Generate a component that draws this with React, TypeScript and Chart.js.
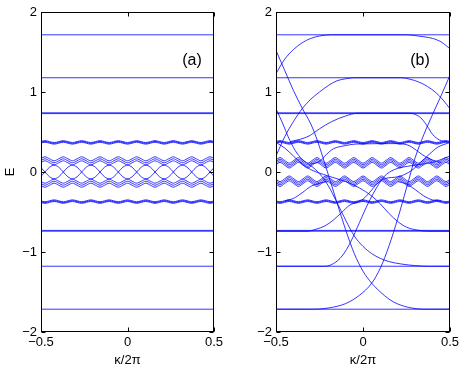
import React, { useEffect, useRef } from "react";
import { Chart, registerables } from "chart.js";
Chart.register(...registerables);

// ---------- data ----------
const KX = [-0.5, -0.477, -0.4505, -0.424, -0.3975, -0.371, -0.3445, -0.318, -0.2915, -0.265, -0.2385, -0.212, -0.1855, -0.159, -0.1325, -0.106, -0.0795, -0.053, -0.0265, 0, 0.0265, 0.053, 0.0795, 0.106, 0.1325, 0.159, 0.1855, 0.212, 0.2385, 0.265, 0.2915, 0.318, 0.3445, 0.371, 0.3975, 0.424, 0.4505, 0.477, 0.5];

const X_TICKS = [-0.5, 0, 0.5];
const X_TICK_LABELS = ["\u22120.5", "0", "0.5"];
const Y_TICKS = [-2, -1, 0, 1, 2];
const Y_TICK_LABELS = ["\u22122", "\u22121", "0", "1", "2"];
const X_TITLE = "\u03ba/2\u03c0";
const Y_TITLE = "E";
const PANEL_LABELS = ["(a)", "(b)"];

const FLAT_LEVELS = [1.715, 1.178, 0.74, 0.73, -0.73, -0.74, -1.178, -1.715];

// panel (a) crossing lines
const XA_UP = [-0.054,
  0, 0.06, 0.085, 0.06, 0, -0.06, -0.085, -0.06,
  0, 0.06, 0.085, 0.06, 0, -0.06, -0.085, -0.06,
  0, 0.06, 0.085, 0.06, 0, -0.06, -0.085, -0.06,
  0, 0.06, 0.085, 0.06, 0, -0.06, -0.085, -0.06,
  0, 0.06, 0.085, 0.06, 0,
  -0.054];
const XA_DN = [0.054,
  0, -0.06, -0.085, -0.06, 0, 0.06, 0.085, 0.06,
  0, -0.06, -0.085, -0.06, 0, 0.06, 0.085, 0.06,
  0, -0.06, -0.085, -0.06, 0, 0.06, 0.085, 0.06,
  0, -0.06, -0.085, -0.06, 0, 0.06, 0.085, 0.06,
  0, -0.06, -0.085, -0.06, 0,
  0.054];

// panel (a) central bundles
const TA1 = [0.12,
  0.14, 0.115, 0.09, 0.115, 0.14, 0.115, 0.09, 0.115, 0.14, 0.115, 0.09, 0.115,
  0.14, 0.115, 0.09, 0.115, 0.14, 0.115, 0.09, 0.115, 0.14, 0.115, 0.09, 0.115,
  0.14, 0.115, 0.09, 0.115, 0.14, 0.115, 0.09, 0.115, 0.14, 0.115, 0.09, 0.115,
  0.14, 0.12];
const TA2 = [0.145,
  0.165, 0.14, 0.115, 0.14, 0.165, 0.14, 0.115, 0.14, 0.165, 0.14, 0.115, 0.14,
  0.165, 0.14, 0.115, 0.14, 0.165, 0.14, 0.115, 0.14, 0.165, 0.14, 0.115, 0.14,
  0.165, 0.14, 0.115, 0.14, 0.165, 0.14, 0.115, 0.14, 0.165, 0.14, 0.115, 0.14,
  0.165, 0.145];
const TA3 = [0.17,
  0.19, 0.165, 0.14, 0.165, 0.19, 0.165, 0.14, 0.165, 0.19, 0.165, 0.14, 0.165,
  0.19, 0.165, 0.14, 0.165, 0.19, 0.165, 0.14, 0.165, 0.19, 0.165, 0.14, 0.165,
  0.19, 0.165, 0.14, 0.165, 0.19, 0.165, 0.14, 0.165, 0.19, 0.165, 0.14, 0.165,
  0.19, 0.17];
const BA1 = [-0.12,
  -0.14, -0.115, -0.09, -0.115, -0.14, -0.115, -0.09, -0.115, -0.14, -0.115, -0.09, -0.115,
  -0.14, -0.115, -0.09, -0.115, -0.14, -0.115, -0.09, -0.115, -0.14, -0.115, -0.09, -0.115,
  -0.14, -0.115, -0.09, -0.115, -0.14, -0.115, -0.09, -0.115, -0.14, -0.115, -0.09, -0.115,
  -0.14, -0.12];
const BA2 = [-0.145,
  -0.165, -0.14, -0.115, -0.14, -0.165, -0.14, -0.115, -0.14, -0.165, -0.14, -0.115, -0.14,
  -0.165, -0.14, -0.115, -0.14, -0.165, -0.14, -0.115, -0.14, -0.165, -0.14, -0.115, -0.14,
  -0.165, -0.14, -0.115, -0.14, -0.165, -0.14, -0.115, -0.14, -0.165, -0.14, -0.115, -0.14,
  -0.165, -0.145];
const BA3 = [-0.17,
  -0.19, -0.165, -0.14, -0.165, -0.19, -0.165, -0.14, -0.165, -0.19, -0.165, -0.14, -0.165,
  -0.19, -0.165, -0.14, -0.165, -0.19, -0.165, -0.14, -0.165, -0.19, -0.165, -0.14, -0.165,
  -0.19, -0.165, -0.14, -0.165, -0.19, -0.165, -0.14, -0.165, -0.19, -0.165, -0.14, -0.165,
  -0.19, -0.17];

// +-0.37 bundles (both panels)
const Q1 = [0.362,
  0.372, 0.36, 0.348, 0.36, 0.372, 0.36, 0.348, 0.36, 0.372, 0.36, 0.348, 0.36,
  0.372, 0.36, 0.348, 0.36, 0.372, 0.36, 0.348, 0.36, 0.372, 0.36, 0.348, 0.36,
  0.372, 0.36, 0.348, 0.36, 0.372, 0.36, 0.348, 0.36, 0.372, 0.36, 0.348, 0.36,
  0.372, 0.362];
const Q2 = [0.372,
  0.382, 0.37, 0.358, 0.37, 0.382, 0.37, 0.358, 0.37, 0.382, 0.37, 0.358, 0.37,
  0.382, 0.37, 0.358, 0.37, 0.382, 0.37, 0.358, 0.37, 0.382, 0.37, 0.358, 0.37,
  0.382, 0.37, 0.358, 0.37, 0.382, 0.37, 0.358, 0.37, 0.382, 0.37, 0.358, 0.37,
  0.382, 0.372];
const Q3 = [0.382,
  0.392, 0.38, 0.368, 0.38, 0.392, 0.38, 0.368, 0.38, 0.392, 0.38, 0.368, 0.38,
  0.392, 0.38, 0.368, 0.38, 0.392, 0.38, 0.368, 0.38, 0.392, 0.38, 0.368, 0.38,
  0.392, 0.38, 0.368, 0.38, 0.392, 0.38, 0.368, 0.38, 0.392, 0.38, 0.368, 0.38,
  0.392, 0.382];
const QN1 = [-0.362,
  -0.372, -0.36, -0.348, -0.36, -0.372, -0.36, -0.348, -0.36, -0.372, -0.36, -0.348, -0.36,
  -0.372, -0.36, -0.348, -0.36, -0.372, -0.36, -0.348, -0.36, -0.372, -0.36, -0.348, -0.36,
  -0.372, -0.36, -0.348, -0.36, -0.372, -0.36, -0.348, -0.36, -0.372, -0.36, -0.348, -0.36,
  -0.372, -0.362];
const QN2 = [-0.372,
  -0.382, -0.37, -0.358, -0.37, -0.382, -0.37, -0.358, -0.37, -0.382, -0.37, -0.358, -0.37,
  -0.382, -0.37, -0.358, -0.37, -0.382, -0.37, -0.358, -0.37, -0.382, -0.37, -0.358, -0.37,
  -0.382, -0.37, -0.358, -0.37, -0.382, -0.37, -0.358, -0.37, -0.382, -0.37, -0.358, -0.37,
  -0.382, -0.372];
const QN3 = [-0.382,
  -0.392, -0.38, -0.368, -0.38, -0.392, -0.38, -0.368, -0.38, -0.392, -0.38, -0.368, -0.38,
  -0.392, -0.38, -0.368, -0.38, -0.392, -0.38, -0.368, -0.38, -0.392, -0.38, -0.368, -0.38,
  -0.392, -0.38, -0.368, -0.38, -0.392, -0.38, -0.368, -0.38, -0.392, -0.38, -0.368, -0.38,
  -0.392, -0.382];

// panel (b) central bundles
const PB1 = [0.092,
  0.12, 0.085, 0.05, 0.085, 0.12, 0.085, 0.05, 0.085, 0.12, 0.085, 0.05, 0.085,
  0.12, 0.085, 0.05, 0.085, 0.12, 0.085, 0.05, 0.085, 0.12, 0.085, 0.05, 0.085,
  0.12, 0.085, 0.05, 0.085, 0.12, 0.085, 0.05, 0.085, 0.12, 0.085, 0.05, 0.085,
  0.12, 0.092];
const PB2 = [0.112,
  0.14, 0.105, 0.07, 0.105, 0.14, 0.105, 0.07, 0.105, 0.14, 0.105, 0.07, 0.105,
  0.14, 0.105, 0.07, 0.105, 0.14, 0.105, 0.07, 0.105, 0.14, 0.105, 0.07, 0.105,
  0.14, 0.105, 0.07, 0.105, 0.14, 0.105, 0.07, 0.105, 0.14, 0.105, 0.07, 0.105,
  0.14, 0.112];
const PB3 = [0.132,
  0.16, 0.125, 0.09, 0.125, 0.16, 0.125, 0.09, 0.125, 0.16, 0.125, 0.09, 0.125,
  0.16, 0.125, 0.09, 0.125, 0.16, 0.125, 0.09, 0.125, 0.16, 0.125, 0.09, 0.125,
  0.16, 0.125, 0.09, 0.125, 0.16, 0.125, 0.09, 0.125, 0.16, 0.125, 0.09, 0.125,
  0.16, 0.132];
const PB4 = [0.152,
  0.18, 0.145, 0.11, 0.145, 0.18, 0.145, 0.11, 0.145, 0.18, 0.145, 0.11, 0.145,
  0.18, 0.145, 0.11, 0.145, 0.18, 0.145, 0.11, 0.145, 0.18, 0.145, 0.11, 0.145,
  0.18, 0.145, 0.11, 0.145, 0.18, 0.145, 0.11, 0.145, 0.18, 0.145, 0.11, 0.145,
  0.18, 0.152];
const PBN1 = [-0.092,
  -0.12, -0.085, -0.05, -0.085, -0.12, -0.085, -0.05, -0.085, -0.12, -0.085, -0.05, -0.085,
  -0.12, -0.085, -0.05, -0.085, -0.12, -0.085, -0.05, -0.085, -0.12, -0.085, -0.05, -0.085,
  -0.12, -0.085, -0.05, -0.085, -0.12, -0.085, -0.05, -0.085, -0.12, -0.085, -0.05, -0.085,
  -0.12, -0.092];
const PBN2 = [-0.112,
  -0.14, -0.105, -0.07, -0.105, -0.14, -0.105, -0.07, -0.105, -0.14, -0.105, -0.07, -0.105,
  -0.14, -0.105, -0.07, -0.105, -0.14, -0.105, -0.07, -0.105, -0.14, -0.105, -0.07, -0.105,
  -0.14, -0.105, -0.07, -0.105, -0.14, -0.105, -0.07, -0.105, -0.14, -0.105, -0.07, -0.105,
  -0.14, -0.112];
const PBN3 = [-0.132,
  -0.16, -0.125, -0.09, -0.125, -0.16, -0.125, -0.09, -0.125, -0.16, -0.125, -0.09, -0.125,
  -0.16, -0.125, -0.09, -0.125, -0.16, -0.125, -0.09, -0.125, -0.16, -0.125, -0.09, -0.125,
  -0.16, -0.125, -0.09, -0.125, -0.16, -0.125, -0.09, -0.125, -0.16, -0.125, -0.09, -0.125,
  -0.16, -0.132];
const PBN4 = [-0.152,
  -0.18, -0.145, -0.11, -0.145, -0.18, -0.145, -0.11, -0.145, -0.18, -0.145, -0.11, -0.145,
  -0.18, -0.145, -0.11, -0.145, -0.18, -0.145, -0.11, -0.145, -0.18, -0.145, -0.11, -0.145,
  -0.18, -0.145, -0.11, -0.145, -0.18, -0.145, -0.11, -0.145, -0.18, -0.145, -0.11, -0.145,
  -0.18, -0.152];

// panel (b) dispersive (edge) curves, [kappa, E]
type Pt = [number, number];
const EDGE_A: Pt[] = [[-0.5, 1.23], [-0.45, 1.41], [-0.4, 1.53], [-0.35, 1.615], [-0.3, 1.67], [-0.25, 1.7], [-0.18, 1.715], [0.25, 1.715], [0.3, 1.705], [0.35, 1.69], [0.4, 1.67], [0.45, 1.625], [0.5, 1.54]];
const EDGE_B: Pt[] = [[-0.5, 0.2], [-0.45, 0.44], [-0.4, 0.63], [-0.35, 0.79], [-0.3, 0.91], [-0.25, 1.0], [-0.2, 1.08], [-0.15, 1.14], [-0.1, 1.165], [-0.05, 1.178], [0.22, 1.178], [0.27, 1.16], [0.32, 1.125], [0.37, 1.07], [0.42, 0.99], [0.46, 0.9], [0.5, 0.79]];
const EDGE_C: Pt[] = [[-0.42, 0.38], [-0.36, 0.41], [-0.31, 0.45], [-0.25, 0.54], [-0.18, 0.63], [-0.1, 0.7], [-0.03, 0.735], [0.26, 0.735], [0.3, 0.72], [0.34, 0.66], [0.37, 0.57], [0.4, 0.47], [0.44, 0.4], [0.48, 0.38]];
const EDGE_D: Pt[] = [[-0.3, 0.1], [-0.25, 0.13], [-0.21, 0.22], [-0.17, 0.29], [-0.1, 0.33], [-0.04, 0.35], [0.2, 0.355], [0.265, 0.33], [0.32, 0.25], [0.36, 0.19], [0.4, 0.15], [0.45, 0.12]];
const EDGE_R1: Pt[] = [[-0.5, -1.715], [-0.3, -1.715], [-0.2, -1.7], [-0.1, -1.645], [-0.02, -1.54], [0.05, -1.39], [0.1, -1.2], [0.15, -0.92], [0.2, -0.58], [0.25, -0.2], [0.3, 0.18], [0.35, 0.47], [0.4, 0.72], [0.45, 0.96], [0.5, 1.21]];
const EDGE_S1: Pt[] = [[-0.5, 1.52], [-0.45, 1.27], [-0.4, 1.02], [-0.35, 0.8], [-0.3, 0.6], [-0.27, 0.44], [-0.23, 0.18], [-0.19, -0.1], [-0.15, -0.38], [-0.1, -0.72], [-0.05, -1.02], [0, -1.24], [0.05, -1.39], [0.1, -1.5], [0.15, -1.59], [0.2, -1.65], [0.28, -1.7], [0.35, -1.715], [0.5, -1.715]];
const EDGE_R2: Pt[] = [[-0.5, -1.178], [-0.22, -1.178], [-0.17, -1.145], [-0.12, -1.05], [-0.07, -0.87], [-0.02, -0.63], [0.03, -0.39], [0.08, -0.19], [0.12, -0.06], [0.18, 0.03], [0.28, 0.08], [0.4, 0.12], [0.5, 0.2]];
const EDGE_S2: Pt[] = [[-0.5, 0.79], [-0.46, 0.6], [-0.43, 0.44], [-0.39, 0.27], [-0.35, 0.16], [-0.3, 0.08], [-0.25, -0.02], [-0.2, -0.17], [-0.15, -0.38], [-0.1, -0.6], [-0.05, -0.8], [0, -0.93], [0.05, -1.02], [0.1, -1.08], [0.15, -1.12], [0.22, -1.15], [0.3, -1.17], [0.38, -1.178], [0.5, -1.178]];
const EDGE_R3: Pt[] = [[-0.5, -0.74], [-0.32, -0.74], [-0.27, -0.715], [-0.22, -0.675], [-0.17, -0.6], [-0.12, -0.5], [-0.08, -0.42], [-0.04, -0.38], [0, -0.34], [0.04, -0.25], [0.08, -0.15], [0.13, -0.08], [0.2, -0.06], [0.28, 0.02], [0.33, 0.12], [0.38, 0.22], [0.43, 0.31], [0.5, 0.37]];
const EDGE_S3: Pt[] = [[-0.5, 0.37], [-0.45, 0.3], [-0.4, 0.2], [-0.35, 0.1], [-0.3, 0.03], [-0.2, -0.05], [-0.1, -0.12], [-0.02, -0.2], [0.05, -0.3], [0.1, -0.4], [0.15, -0.52], [0.2, -0.62], [0.25, -0.69], [0.31, -0.725], [0.38, -0.74], [0.5, -0.74]];
const EDGE_R4: Pt[] = [[-0.45, -0.36], [-0.4, -0.33], [-0.35, -0.26], [-0.3, -0.18], [-0.25, -0.14], [-0.2, -0.12]];
const EDGE_S4: Pt[] = [[0.2, -0.12], [0.25, -0.15], [0.3, -0.22], [0.35, -0.3], [0.4, -0.35], [0.45, -0.365]];

// ---------- helpers ----------
const BLUE = "#0000ff";
const FONT = '"Liberation Sans", Arial, Helvetica, sans-serif';

const fromWave = (vals: number[]) => vals.map((y, i) => ({ x: KX[i], y }));
const fromFlat = (level: number) => [{ x: KX[0], y: level }, { x: KX[KX.length - 1], y: level }];
const fromPts = (p: Pt[]) => p.map(([x, y]) => ({ x, y }));

const lineDs = (data: { x: number; y: number }[]) => ({
  data,
  borderColor: BLUE,
  borderWidth: 0.8,
  pointRadius: 0,
  fill: false,
  cubicInterpolationMode: "monotone" as const,
});

const framePlugin = {
  id: "frame",
  afterDraw(chart: any, _args: any, opts: any) {
    const { ctx, chartArea: a, scales } = chart;
    ctx.save();
    ctx.strokeStyle = "#000";
    ctx.lineWidth = 1;
    const l = Math.round(a.left) + 0.5;
    const r = Math.round(a.right) - 0.5;
    const t = Math.round(a.top) + 0.5;
    const b = Math.round(a.bottom) - 0.5;
    ctx.strokeRect(l, t, r - l, b - t);
    ctx.beginPath();
    const TL = 4;
    X_TICKS.forEach((v) => {
      const px = Math.round(scales.x.getPixelForValue(v)) + 0.5;
      ctx.moveTo(px, b); ctx.lineTo(px, b - TL);
      ctx.moveTo(px, t); ctx.lineTo(px, t + TL);
    });
    Y_TICKS.forEach((v) => {
      const py = Math.round(scales.y.getPixelForValue(v)) + 0.5;
      ctx.moveTo(l, py); ctx.lineTo(l + TL, py);
      ctx.moveTo(r, py); ctx.lineTo(r - TL, py);
    });
    ctx.stroke();
    ctx.fillStyle = "#000";
    ctx.font = `16px ${FONT}`;
    ctx.textAlign = "center";
    ctx.textBaseline = "middle";
    ctx.fillText(opts.label, opts.lx, opts.ly);
    ctx.restore();
  },
};

function makeConfig(datasets: any[], yWidth: number, showYTitle: boolean, padRight: number, label: string, lx: number) {
  return {
    type: "line" as const,
    data: { datasets },
    options: {
      animation: false as const,
      responsive: false,
      events: [],
      layout: { padding: { top: 12, right: padRight, left: 0, bottom: 0 } },
      plugins: {
        legend: { display: false },
        tooltip: { enabled: false },
        frame: { label, lx, ly: 61 },
      },
      scales: {
        x: {
          type: "linear" as const,
          min: -0.5,
          max: 0.5,
          grid: { display: false, drawTicks: false },
          border: { display: false },
          afterBuildTicks: (s: any) => { s.ticks = X_TICKS.map((value) => ({ value })); },
          afterFit: (s: any) => { s.height = 37; },
          ticks: {
            autoSkip: false,
            maxRotation: 0,
            padding: 3,
            color: "#000",
            font: { family: FONT, size: 13 },
            callback: (_v: any, i: number) => X_TICK_LABELS[i],
          },
          title: { display: true, text: X_TITLE, color: "#000", font: { family: FONT, size: 13 }, padding: { top: 0, bottom: 1 } },
        },
        y: {
          type: "linear" as const,
          min: -2,
          max: 2,
          grid: { display: false, drawTicks: false },
          border: { display: false },
          afterBuildTicks: (s: any) => { s.ticks = Y_TICKS.map((value) => ({ value })); },
          afterFit: (s: any) => { s.width = yWidth; },
          ticks: {
            autoSkip: false,
            padding: 4,
            color: "#000",
            font: { family: FONT, size: 13 },
            callback: (_v: any, i: number) => Y_TICK_LABELS[i],
          },
          title: { display: showYTitle, text: Y_TITLE, color: "#000", font: { family: FONT, size: 13 }, padding: { top: 3, bottom: 0 } },
        },
      },
    },
    plugins: [framePlugin],
  };
}

export default function App() {
  const refA = useRef<HTMLCanvasElement>(null);
  const refB = useRef<HTMLCanvasElement>(null);

  useEffect(() => {
    const dsA = [
      ...FLAT_LEVELS.map((lv) => lineDs(fromFlat(lv))),
      ...[Q1, Q2, Q3, QN1, QN2, QN3].map((w) => lineDs(fromWave(w))),
      ...[TA1, TA2, TA3, BA1, BA2, BA3, XA_UP, XA_DN].map((w) => lineDs(fromWave(w))),
    ];
    const dsB = [
      ...FLAT_LEVELS.map((lv) => lineDs(fromFlat(lv))),
      ...[Q1, Q2, Q3, QN1, QN2, QN3].map((w) => lineDs(fromWave(w))),
      ...[PB1, PB2, PB3, PB4, PBN1, PBN2, PBN3, PBN4].map((w) => lineDs(fromWave(w))),
      ...[EDGE_A, EDGE_B, EDGE_C, EDGE_D, EDGE_R1, EDGE_S1, EDGE_R2, EDGE_S2, EDGE_R3, EDGE_S3, EDGE_R4, EDGE_S4].map((p) => lineDs(fromPts(p))),
    ];
    const chA = new Chart(refA.current!, makeConfig(dsA, 41, true, 18, PANEL_LABELS[0], 192) as any);
    const chB = new Chart(refB.current!, makeConfig(dsB, 44, false, 13, PANEL_LABELS[1], 188) as any);
    return () => { chA.destroy(); chB.destroy(); };
  }, []);

  return (
    <div style={{ position: "absolute", left: 0, top: 0, width: 463, height: 369, background: "#fff" }}>
      <canvas ref={refA} width={232} height={369} style={{ position: "absolute", left: 0, top: 0, width: 232, height: 369 }} />
      <canvas ref={refB} width={231} height={369} style={{ position: "absolute", left: 232, top: 0, width: 231, height: 369 }} />
    </div>
  );
}
